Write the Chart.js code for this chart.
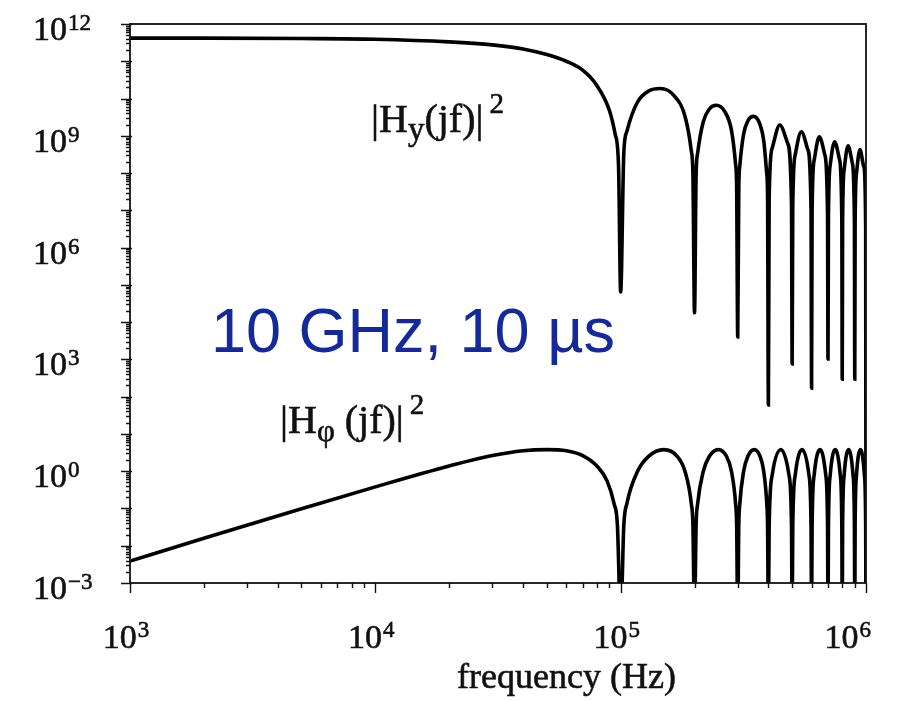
<!DOCTYPE html>
<html>
<head>
<meta charset="utf-8">
<script src="https://cdn.jsdelivr.net/npm/chart.js@4"></script>
<style>
  html, body { margin: 0; padding: 0; background: #fff; }
  #chart { display: block; }
</style>
</head>
<body>
<canvas id="chart" width="903" height="701"></canvas>
<script>
// |Hy(jf)|^2 : frequency (Hz) and value, as powers of ten
const freqHy = [
  1000, 2000, 5000, 10000, 20000, 30000, 40000, 50000, 60000, 70000, 80000, 90000, 95000, 98000, 100000,
  103000, 106000, 117000, 130000, 145000, 165000, 183000, 194000, 197000, 200000,
  203000, 206000, 217000, 230000, 245000, 265000, 283000, 294000, 297000, 300000,
  303000, 306000, 317000, 330000, 348000, 370000, 383000, 394000, 397000, 400000,
  403000, 415000, 445000, 480000, 497000, 500000,
  503000, 515000, 545000, 580000, 597000, 600000,
  603000, 615000, 645000, 680000, 697000, 700000,
  703000, 715000, 745000, 780000, 797000, 800000,
  803000, 815000, 845000, 880000, 897000, 900000,
  903000, 915000, 945000, 980000, 997000, 1000000
];
const hyDecades = [
  11.62, 11.62, 11.61, 11.59, 11.52, 11.44, 11.33, 11.18, 11.0, 10.76, 10.35, 9.68, 9.04, 8.22, 4.81,
  8.55, 9.12, 9.9, 10.2, 10.27, 10.08, 9.52, 8.6, 7.98, 4.25,
  7.96, 8.54, 9.37, 9.72, 9.82, 9.66, 9.14, 8.24, 7.62, 3.6,
  7.6, 8.2, 9.04, 9.4, 9.52, 9.3, 8.87, 7.98, 7.37, 1.78,
  7.35, 8.68, 9.29, 8.79, 7.17, 2.88,
  7.16, 8.5, 9.11, 8.62, 7.01, 2.23,
  7.0, 8.35, 8.97, 8.48, 6.88, 3.01,
  6.87, 8.22, 8.84, 8.36, 6.76, 2.47,
  6.75, 8.1, 8.73, 8.26, 6.66, 2.47,
  6.65, 8.0, 8.63, 8.17, 6.57, -4
];

// |Hphi(jf)|^2
const freqHphi = [
  1000, 2000, 5000, 10000, 20000, 30000, 40000, 50000, 60000, 70000, 80000, 88000, 94000, 97000, 100000,
  103000, 106000, 117000, 130000, 150000, 170000, 183000, 194000, 197000, 200000,
  203000, 206000, 217000, 230000, 250000, 270000, 283000, 294000, 297000, 300000,
  303000, 306000, 317000, 330000, 350000, 370000, 383000, 394000, 397000, 400000,
  403000, 415000, 450000, 485000, 497000, 500000,
  503000, 515000, 550000, 585000, 597000, 600000,
  603000, 615000, 650000, 685000, 697000, 700000,
  703000, 715000, 750000, 785000, 797000, 800000,
  803000, 815000, 850000, 885000, 897000, 900000,
  903000, 915000, 950000, 985000, 997000, 1000000
];
const hphiDecades = [
  -2.41, -1.8, -1.01, -0.42, 0.14, 0.42, 0.55, 0.58, 0.55, 0.42, 0.14, -0.26, -0.87, -1.45, -4,
  -1.45, -0.87, -0.01, 0.4, 0.58, 0.4, -0.01, -0.87, -1.45, -4,
  -1.45, -0.87, -0.01, 0.4, 0.58, 0.4, -0.01, -0.87, -1.45, -4,
  -1.45, -0.87, -0.01, 0.4, 0.58, 0.4, -0.01, -0.87, -1.45, -4,
  -1.45, -0.09, 0.58, -0.09, -1.45, -4,
  -1.45, -0.09, 0.58, -0.09, -1.45, -4,
  -1.45, -0.09, 0.58, -0.09, -1.45, -4,
  -1.45, -0.09, 0.58, -0.09, -1.45, -4,
  -1.45, -0.09, 0.58, -0.09, -1.45, -4,
  -1.45, -0.09, 0.58, -0.09, -1.45, -4
];

const xTickExponents = [3, 4, 5, 6];
const yTickExponents = [-3, 0, 3, 6, 9, 12];

const SERIF = "'Liberation Serif', 'Times New Roman', 'DejaVu Serif', serif";
const SANS = "'Liberation Sans', Arial, sans-serif";

function toPoints(freqs, decades) {
  return freqs.map((f, i) => ({ x: f, y: Math.pow(10, decades[i]) }));
}

// the scanned figure has heavy strokes, so fill and outline lightly
function ink(ctx, text, x, y) {
  ctx.fillText(text, x, y);
  ctx.strokeText(text, x, y);
}

function supText(exp) {
  return exp < 0 ? "\u2212" + (-exp) : String(exp);
}

function drawPower(ctx, exp, left, baseline, raise) {
  ctx.font = "34px " + SERIF;
  ink(ctx, "10", left, baseline);
  const w = ctx.measureText("10").width;
  ctx.font = "23px " + SERIF;
  ink(ctx, supText(exp), left + w + 1, baseline - raise);
}

function powerWidth(ctx, exp) {
  ctx.font = "34px " + SERIF;
  const w = ctx.measureText("10").width;
  ctx.font = "23px " + SERIF;
  return w + 1 + ctx.measureText(supText(exp)).width;
}

// text made of runs with their own size and vertical shift
function drawRuns(ctx, x, baseline, runs) {
  let cx = x;
  runs.forEach(([text, size, dy, gap]) => {
    ctx.font = size + "px " + SERIF;
    cx += gap || 0;
    ink(ctx, text, cx, baseline + dy);
    cx += ctx.measureText(text).width;
  });
}

const frameAndLabels = {
  id: "frameAndLabels",
  afterDatasetsDraw(chart) {
    const { ctx, chartArea: a, scales: { x, y } } = chart;
    ctx.save();
    ctx.strokeStyle = "#111";
    ctx.fillStyle = "#111";

    // frame
    ctx.lineWidth = 1.8;
    ctx.strokeRect(a.left, a.top, a.right - a.left, a.bottom - a.top);

    // log tick marks
    ctx.lineWidth = 1.4;
    ctx.beginPath();
    const yLo = yTickExponents[0], yHi = yTickExponents[yTickExponents.length - 1];
    for (let e = yLo; e <= yHi; e++) {
      for (let m = 1; m <= 9; m++) {
        if (e === yHi && m > 1) break;
        const py = Math.round(y.getPixelForValue(m * Math.pow(10, e))) + 0.5;
        ctx.moveTo(a.left - (m === 1 ? 9 : 4), py);
        ctx.lineTo(a.left + (m === 1 ? 2 : 0), py);
      }
    }
    const xLo = xTickExponents[0], xHi = xTickExponents[xTickExponents.length - 1];
    for (let e = xLo; e <= xHi; e++) {
      for (let m = 1; m <= 9; m++) {
        if (e === xHi && m > 1) break;
        const px = Math.round(x.getPixelForValue(m * Math.pow(10, e))) + 0.5;
        ctx.moveTo(px, a.bottom);
        ctx.lineTo(px, a.bottom + (m === 1 ? 10 : 5));
      }
    }
    ctx.stroke();

    // tick labels
    ctx.lineWidth = 0.6;
    ctx.textBaseline = "alphabetic";
    ctx.textAlign = "left";
    yTickExponents.forEach((e) => {
      const py = y.getPixelForValue(Math.pow(10, e));
      drawPower(ctx, e, 33, py + 16, 10);
    });
    xTickExponents.forEach((e) => {
      const px = x.getPixelForValue(Math.pow(10, e));
      const w = powerWidth(ctx, e);
      let left = px - 4 - w / 2;
      if (left + w > 871) left = 871 - w;
      drawPower(ctx, e, left, a.bottom + 65, 11);
    });

    // axis title
    ctx.font = "36px " + SERIF;
    ink(ctx, "frequency (Hz)", 457, 688);

    // curve labels
    drawRuns(ctx, 371, 132, [["|H", 40, 0], ["y", 33, 8], ["(jf)|", 40, 0], ["2", 29, -19, 6]]);
    drawRuns(ctx, 280, 433, [["|H", 40, 0], ["\u03c6", 31, 8], [" (jf)|", 40, 0], ["2", 29, -19, 6]]);

    // annotation
    ctx.font = "63px " + SANS;
    ctx.fillStyle = "#14299b";
    ctx.fillText("10 GHz, 10 \u00b5s", 211, 352);
    ctx.restore();
  }
};

new Chart(document.getElementById("chart"), {
  type: "line",
  data: {
    datasets: [
      {
        label: "|Hy(jf)|^2",
        data: toPoints(freqHy, hyDecades),
        borderColor: "#000",
        borderWidth: 3.6,
        pointRadius: 0,
        tension: 0.4,
        cubicInterpolationMode: "monotone",
      },
      {
        label: "|Hphi(jf)|^2",
        data: toPoints(freqHphi, hphiDecades),
        borderColor: "#000",
        borderWidth: 3.6,
        pointRadius: 0,
        tension: 0.4,
        cubicInterpolationMode: "monotone",
      },
    ],
  },
  options: {
    responsive: false,
    animation: false,
    devicePixelRatio: 1,
    layout: { padding: { left: 130, top: 24, right: 37, bottom: 118 } },
    plugins: { legend: { display: false }, tooltip: { enabled: false } },
    scales: {
      x: { type: "logarithmic", min: 1e3, max: 1e6, display: false },
      y: { type: "logarithmic", min: 1e-3, max: 1e12, display: false },
    },
  },
  plugins: [frameAndLabels],
});
</script>
</body>
</html>
